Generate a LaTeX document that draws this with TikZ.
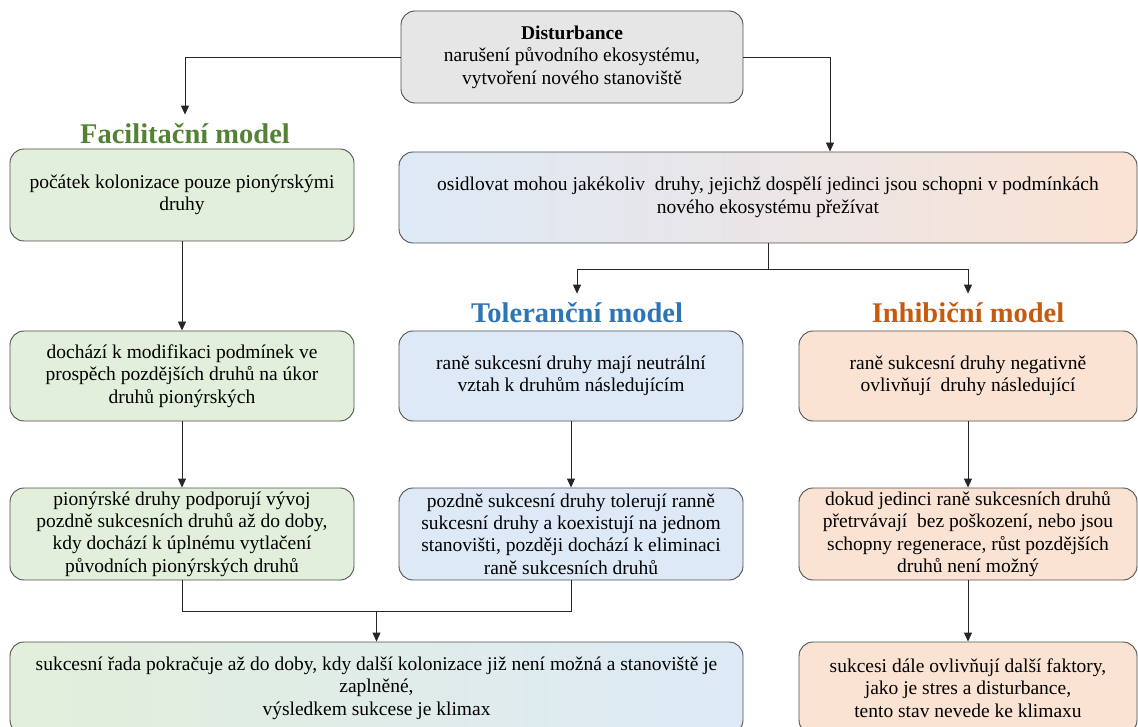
\documentclass[tikz,border=0pt]{standalone}
\usepackage{fontspec}
\setmainfont{Liberation Serif}
\usetikzlibrary{arrows.meta,calc}
\definecolor{gfill}{HTML}{E2EFDA}
\definecolor{bfill}{HTML}{DDE9F6}
\definecolor{ofill}{HTML}{FBE3D4}
\definecolor{grfill}{HTML}{E7E6E6}
\definecolor{midfill}{HTML}{EAE5E6}
\definecolor{bord}{HTML}{505050}
\definecolor{tgreen}{HTML}{548235}
\definecolor{tblue}{HTML}{2E75B6}
\definecolor{torange}{HTML}{C55A11}
\begin{document}
\begin{tikzpicture}[x=1pt,y=-1pt,
  box/.style={draw=bord, line width=0.9pt, rounded corners=14pt, align=center, inner sep=2pt,
    font=\fontsize{19.5}{22.4}\selectfont, text=black, minimum height=92pt},
  ttl/.style={font=\fontsize{28.5}{32}\selectfont\bfseries, inner sep=9pt},
  arr/.style={-{Triangle[length=9pt,width=8pt]}, line width=0.9pt, draw=black!85},
  conn/.style={line width=0.9pt, draw=black!85}]
\useasboundingbox (0,0) rectangle (1138,727);
\clip (0,0) rectangle (1138,727);

% top
\node[box, fill=grfill, minimum width=342pt] (dist) at (572,57)
  {\textbf{Disturbance}\\narušení původního ekosystému,\\vytvoření nového stanoviště};

% titles
\node[ttl, text=tgreen] (ftitle) at (185,134) {Facilitační model};
\node[ttl, text=tblue] (ttitle) at (577,313) {Toleranční model};
\node[ttl, text=torange] (ititle) at (968,313) {Inhibiční model};

% facilitation column
\node[box, fill=gfill, minimum width=344pt] (f1) at (182,195)
  {počátek kolonizace pouze pionýrskými\\druhy};
\node[box, fill=gfill, minimum width=344pt, minimum height=90pt] (f2) at (182,376)
  {dochází k modifikaci podmínek ve\\prospěch pozdějších druhů na úkor\\druhů pionýrských};
\node[box, fill=gfill, minimum width=344pt] (f3) at (182,534)
  {pionýrské druhy podporují vývoj\\pozdně sukcesních druhů až do doby,\\kdy dochází k úplnému vytlačení\\původních pionýrských druhů};

% wide box
\node[box, left color=bfill, right color=ofill, middle color=midfill, minimum width=738pt, minimum height=91pt] (osid) at (768,197.5)
  {osidlovat mohou jakékoliv\ \ druhy, jejichž dospělí jedinci jsou schopni v podmínkách\\nového ekosystému přežívat};

% tolerance column
\node[box, fill=bfill, minimum width=344pt, minimum height=90pt] (t1) at (571,376)
  {raně sukcesní druhy mají neutrální\\vztah k druhům následujícím};
\node[box, fill=bfill, minimum width=344pt] (t2) at (571,534)
  {pozdně sukcesní druhy tolerují ranně\\sukcesní druhy a koexistují na jednom\\stanovišti, později dochází k eliminaci\\raně sukcesních druhů};

% inhibition column
\node[box, fill=ofill, minimum width=338pt, minimum height=90pt] (i1) at (968,376)
  {raně sukcesní druhy negativně\\ovlivňují\ \ druhy následující};
\node[box, fill=ofill, minimum width=338pt] (i2) at (968,534)
  {dokud jedinci raně sukcesních druhů\\přetrvávají\ \ bez poškození, nebo jsou\\schopny regenerace, růst pozdějších\\druhů není možný};
\node[box, fill=ofill, minimum width=338pt] (i3) at (968,688)
  {sukcesi dále ovlivňují další faktory,\\jako je stres a disturbance,\\tento stav nevede ke klimaxu};

% bottom
\node[box, left color=gfill, right color=bfill, minimum width=733pt] (b) at (376.5,688)
  {sukcesní řada pokračuje až do doby, kdy další kolonizace již není možná a stanoviště je\\zaplněné,\\výsledkem sukcese je klimax};

% connectors
\draw[arr] (dist.west) -| (ftitle.north);
\draw[arr] (dist.east) -| ([xshift=62pt]osid.north);
\draw[conn] (osid.south) -- ++(0,26) coordinate (split);
\draw[arr] (split) -| (ttitle.north);
\draw[arr] (split) -| (ititle.north);
\draw[arr] (f1.south) -- (f2.north);
\draw[arr] (f2.south) -- (f3.north);
\draw[arr] (t1.south) -- (t2.north);
\draw[arr] (i1.south) -- (i2.north);
\draw[arr] (i2.south) -- (i3.north);
\draw[conn] (f3.south) -- ++(0,31) coordinate (join) -| (t2.south);
\draw[arr] (join -| b.north) -- (b.north);
\end{tikzpicture}
\end{document}
